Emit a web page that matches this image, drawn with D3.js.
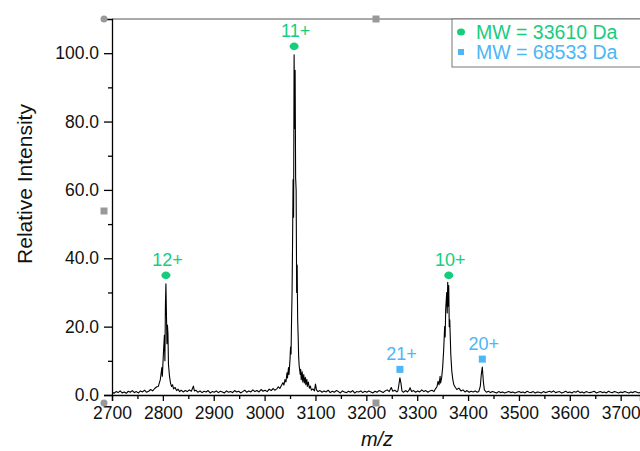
<!DOCTYPE html>
<html>
  <head>
    <!-- load the d3 javascript library -->
    <script src="https://d3js.org/d3.v7.min.js"></script>
    <style>
      body { margin: 0; background: #fff; }
      text { font-family: "Liberation Sans", Arial, sans-serif; }
    </style>
  </head>
  <body>

    <script>

    // spectrum trace (m/z, relative intensity)
    var mz = [
      2696, 2700, 2704, 2708, 2712, 2716, 2720, 2724, 2728, 2732, 2736, 2740,
      2744, 2748, 2752, 2756, 2760, 2764, 2768, 2772, 2776, 2780, 2784, 2788,
      2791, 2795, 2798, 2799, 2801, 2803, 2804, 2805, 2806, 2807, 2808, 2809,
      2810, 2811, 2813, 2815, 2817, 2819, 2821, 2824, 2827, 2830, 2833, 2836,
      2840, 2844, 2848, 2852, 2856, 2860, 2862, 2865, 2869, 2873, 2877, 2881,
      2885, 2889, 2893, 2897, 2901, 2905, 2909, 2913, 2917, 2921, 2925, 2929,
      2933, 2937, 2941, 2945, 2949, 2953, 2957, 2961, 2965, 2969, 2973, 2977,
      2981, 2985, 2989, 2993, 2997, 3001, 3005, 3009, 3013, 3017, 3020, 3024,
      3027, 3030, 3033, 3036, 3038, 3040, 3042, 3044, 3045, 3047, 3048, 3050,
      3051, 3052, 3053, 3054, 3055, 3056, 3057, 3058, 3059, 3060, 3061, 3062,
      3063, 3064, 3065, 3066, 3067, 3068, 3070, 3071, 3072, 3074, 3075, 3077,
      3078, 3080, 3081, 3083, 3084, 3086, 3088, 3090, 3092, 3095, 3098, 3100,
      3102, 3105, 3109, 3113, 3117, 3121, 3125, 3129, 3133, 3137, 3141, 3145,
      3149, 3153, 3157, 3161, 3165, 3169, 3173, 3177, 3181, 3185, 3189, 3193,
      3197, 3201, 3205, 3209, 3213, 3217, 3221, 3225, 3229, 3233, 3237, 3241,
      3245, 3249, 3252, 3256, 3260, 3262, 3264, 3266, 3268, 3270, 3273, 3277,
      3281, 3284, 3286, 3289, 3293, 3297, 3301, 3305, 3309, 3313, 3317, 3321,
      3325, 3329, 3333, 3336, 3339, 3341, 3343, 3345, 3346, 3348, 3350, 3352,
      3354, 3355, 3356, 3358, 3359, 3360, 3361, 3362, 3363, 3364, 3366, 3368,
      3370, 3372, 3375, 3378, 3382, 3386, 3390, 3394, 3398, 3402, 3406, 3410,
      3414, 3418, 3421, 3424, 3426, 3428, 3430, 3432, 3436, 3440, 3444, 3448,
      3452, 3456, 3460, 3464, 3468, 3472, 3476, 3480, 3484, 3488, 3492, 3496,
      3500, 3504, 3508, 3512, 3516, 3520, 3524, 3528, 3532, 3536, 3540, 3544,
      3548, 3552, 3556, 3560, 3564, 3568, 3572, 3576, 3580, 3584, 3588, 3592,
      3596, 3600, 3604, 3608, 3612, 3616, 3620, 3624, 3628, 3632, 3636, 3640,
      3644, 3648, 3652, 3656, 3660, 3664, 3668, 3672, 3676, 3680, 3684, 3688,
      3692, 3696, 3700, 3704, 3708, 3712, 3716, 3720, 3724, 3728, 3732, 3736,
      3740
    ];
    var intensity = [
      0.6, 0.9, 0.5, 1.0, 0.7, 1.2, 0.6, 0.9, 0.5, 1.1, 0.8, 1.3,
      0.7, 1.0, 0.6, 1.2, 0.9, 1.4, 0.8, 1.1, 1.6, 1.2, 1.9, 2.4,
      2.5, 4.5, 8.0, 5.5, 12.0, 17.5, 10.0, 26.0, 32.5, 24.0, 15.0, 20.5,
      18.0, 9.0, 5.5, 3.5, 2.5, 3.0, 1.8, 2.2, 1.3, 1.7, 1.0, 1.4,
      0.9, 1.3, 1.0, 1.5, 1.1, 2.6, 1.2, 1.4, 0.8, 1.2, 0.7, 1.1,
      0.9, 1.3, 0.6, 1.0, 0.8, 1.2, 0.7, 1.1, 0.9, 0.6, 1.2, 0.8,
      1.0, 0.7, 1.3, 0.9, 1.1, 0.6, 1.0, 1.4, 0.8, 1.2, 0.9, 1.5,
      1.0, 1.3, 0.9, 1.6, 1.1, 1.4, 1.0, 1.7, 1.3, 1.9, 1.4, 1.8,
      2.4, 1.9, 2.8, 3.6, 2.9, 4.5, 3.8, 6.5, 5.0, 8.0, 6.0, 10.5,
      14.0, 12.0, 22.0, 30.0, 45.0, 63.0, 52.0, 99.5, 78.0, 95.0, 63.5, 60.0,
      30.0, 38.0, 22.0, 17.0, 11.0, 8.5, 6.0, 7.5, 4.5, 6.8, 3.8, 6.0,
      3.5, 5.2, 3.0, 4.6, 2.5, 3.8, 2.0, 2.6, 1.4, 1.8, 1.2, 3.2,
      1.5, 1.0, 1.3, 0.8, 1.2, 0.9, 1.4, 0.7, 1.1, 0.8, 1.3, 1.0,
      0.6, 1.2, 0.9, 0.7, 1.1, 0.8, 1.3, 0.6, 1.0, 0.9, 1.2, 0.7,
      1.1, 0.8, 1.2, 0.9, 0.6, 1.1, 0.8, 1.3, 1.0, 0.7, 1.2, 1.5,
      1.0, 2.2, 1.1, 1.4, 0.9, 1.2, 3.0, 5.0, 3.5, 1.2, 0.8, 1.3,
      0.9, 1.4, 2.1, 1.0, 1.3, 0.8, 1.2, 0.9, 1.5, 1.0, 1.3, 0.8,
      1.2, 1.4, 1.0, 1.8, 2.5, 4.0, 3.0, 5.5, 3.5, 5.0, 8.0, 13.0,
      20.0, 17.0, 25.0, 30.0, 24.0, 33.0, 26.0, 32.0, 20.0, 22.0, 12.0, 7.0,
      4.5, 3.0, 2.2, 1.6, 2.0, 1.2, 1.5, 0.9, 1.3, 0.8, 1.1, 0.9,
      1.2, 0.8, 1.0, 2.5, 6.0, 8.2, 4.0, 1.5, 0.8, 1.1, 0.7, 1.0,
      0.8, 0.6, 1.0, 0.7, 0.9, 0.6, 0.8, 1.0, 0.7, 0.9, 0.6, 0.8,
      1.0, 0.7, 0.9, 0.6, 1.1, 0.8, 0.7, 1.0, 0.6, 0.9, 0.8, 0.6,
      1.0, 0.7, 0.9, 1.1, 0.8, 1.2, 0.7, 0.9, 1.0, 0.6, 0.8, 1.1,
      0.7, 0.9, 0.6, 1.0, 0.8, 1.2, 0.7, 0.9, 0.6, 1.0, 0.8, 0.7,
      0.9, 1.1, 0.6, 0.8, 1.0, 0.7, 0.9, 0.6, 1.1, 0.8, 0.7, 1.0,
      0.8, 0.6, 0.9, 0.7, 1.0, 0.8, 0.6, 0.9, 0.7, 1.0, 0.8, 0.6,
      0.9
    ];

    // charge state annotations
    var peakLabels = ["12+", "11+", "10+", "21+", "20+"];
    var peakMz = [2806, 3058, 3362, 3266, 3428];
    var peakMarkY = [35, 102, 35, 7.5, 10.5];
    var peakSeries = [0, 0, 0, 1, 1];

    // legend entries
    var seriesNames = ["MW = 33610 Da", "MW = 68533 Da"];
    var seriesColors = ["#16cd7e", "#4cb6f6"];

    // axis ticks
    var xTicks = [2700, 2800, 2900, 3000, 3100, 3200, 3300, 3400, 3500, 3600, 3700];
    var xMinor = [2750, 2850, 2950, 3050, 3150, 3250, 3350, 3450, 3550, 3650];
    var yTicks = [0, 20, 40, 60, 80, 100];
    var yMinor = [10, 30, 50, 70, 90];

    var w = 640;
    var h = 451;
    var padL = 112, padR = 640, padT = 19, padB = 395;

    var svg = d3.select("body")
      .append("svg")
      .attr("width", w)
      .attr("height", h);

    var x = d3.scaleLinear().domain([2700, 3738]).range([padL, padR]);
    var y = d3.scaleLinear().domain([0, 110]).range([padB, padT]);

    // clip the trace to the plot frame
    svg.append("clipPath").attr("id", "clip")
      .append("rect")
      .attr("x", padL).attr("y", padT)
      .attr("width", padR - padL).attr("height", padB - padT);

    // top frame line
    svg.append("line")
      .attr("x1", padL).attr("x2", padR)
      .attr("y1", padT).attr("y2", padT)
      .attr("stroke", "#555").attr("stroke-width", 1);

    // the spectrum
    var line = d3.line()
      .x(function(d, i) { return x(mz[i]); })
      .y(function(d) { return y(d); });

    svg.append("path")
      .datum(intensity)
      .attr("clip-path", "url(#clip)")
      .attr("d", line)
      .attr("fill", "none")
      .attr("stroke", "#000")
      .attr("stroke-width", 1.1)
      .attr("stroke-linejoin", "round");

    // x axis, major + minor
    svg.append("g")
      .attr("transform", "translate(0," + padB + ")")
      .call(d3.axisBottom(x).tickValues(xTicks).tickSize(6).tickPadding(6).tickFormat(d3.format("d")));
    svg.append("g")
      .attr("transform", "translate(0," + padB + ")")
      .call(d3.axisBottom(x).tickValues(xMinor).tickSize(4).tickFormat(""))
      .select(".domain").remove();

    // y axis, major + minor
    svg.append("g")
      .attr("transform", "translate(" + padL + ",0)")
      .call(d3.axisLeft(y).tickValues(yTicks).tickSize(8).tickPadding(5).tickFormat(d3.format(".1f")));
    svg.append("g")
      .attr("transform", "translate(" + padL + ",0)")
      .call(d3.axisLeft(y).tickValues(yMinor).tickSize(4).tickFormat(""))
      .select(".domain").remove();

    svg.selectAll(".domain").attr("stroke", "#000").attr("stroke-width", 1.3);
    svg.selectAll(".tick line").attr("stroke", "#000").attr("stroke-width", 1.3);
    svg.selectAll(".tick text")
      .attr("font-family", "Liberation Sans, Arial, sans-serif")
      .attr("font-size", "17.5px")
      .attr("fill", "#111");

    // axis titles
    svg.append("text")
      .attr("transform", "translate(32,184) rotate(-90)")
      .attr("text-anchor", "middle")
      .attr("font-size", "21px")
      .attr("fill", "#111")
      .text("Relative Intensity");

    svg.append("text")
      .attr("x", 377)
      .attr("y", 446)
      .attr("text-anchor", "middle")
      .attr("font-size", "20px")
      .attr("font-style", "italic")
      .attr("fill", "#111")
      .text("m/z");

    // peak markers and charge labels
    peakMz.forEach(function(m, i) {
      var c = seriesColors[peakSeries[i]];
      var px = x(m), py = y(peakMarkY[i]);
      if (peakSeries[i] === 0) {
        svg.append("ellipse")
          .attr("cx", px).attr("cy", py)
          .attr("rx", 4.5).attr("ry", 3.8)
          .attr("fill", c);
      } else {
        svg.append("rect")
          .attr("x", px - 3.5).attr("y", py - 3.5)
          .attr("width", 7).attr("height", 7)
          .attr("fill", c);
      }
      svg.append("text")
        .attr("x", px + 1.5)
        .attr("y", py - 9)
        .attr("text-anchor", "middle")
        .attr("font-size", "18px")
        .attr("fill", c)
        .text(peakLabels[i]);
    });

    // legend box
    svg.append("rect")
      .attr("x", 452).attr("y", padT)
      .attr("width", 200).attr("height", 48)
      .attr("fill", "#fff")
      .attr("stroke", "#777").attr("stroke-width", 1);

    seriesNames.forEach(function(name, i) {
      var ly = 32 + i * 20;
      if (i === 0) {
        svg.append("ellipse")
          .attr("cx", 461).attr("cy", ly)
          .attr("rx", 4).attr("ry", 3.5)
          .attr("fill", seriesColors[i]);
      } else {
        svg.append("rect")
          .attr("x", 458).attr("y", ly - 3)
          .attr("width", 6).attr("height", 6)
          .attr("fill", seriesColors[i]);
      }
      svg.append("text")
        .attr("x", 476)
        .attr("y", ly + 7)
        .attr("font-size", "19.5px")
        .attr("fill", seriesColors[i])
        .text(name);
    });

    // gray layer handles
    [[104, 19], [104, 403]].forEach(function(p) {
      svg.append("circle").attr("cx", p[0]).attr("cy", p[1]).attr("r", 3.5).attr("fill", "#999");
    });
    [[376, 19], [376, 403], [104, 211]].forEach(function(p) {
      svg.append("rect").attr("x", p[0] - 3.5).attr("y", p[1] - 3.5)
        .attr("width", 7).attr("height", 7).attr("fill", "#999");
    });

    </script>
  </body>
</html>
